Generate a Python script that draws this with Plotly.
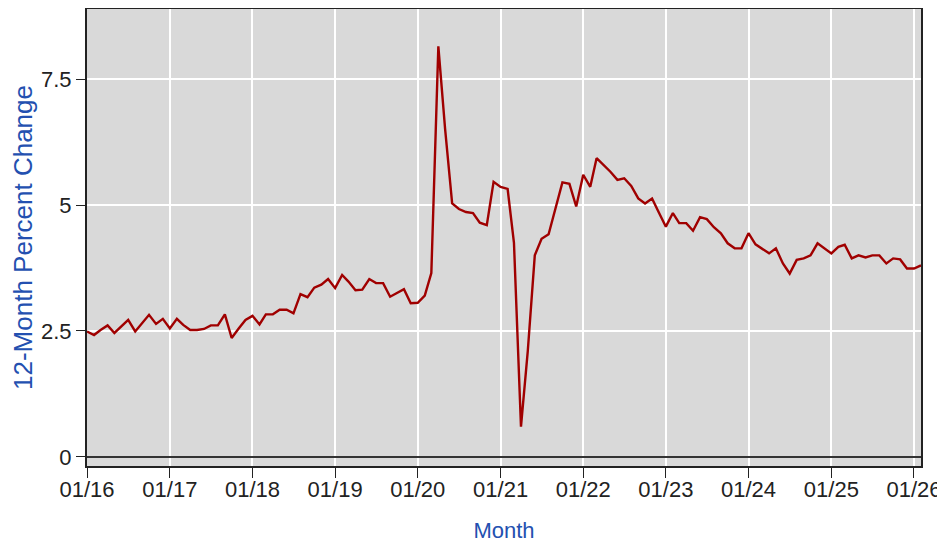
import pandas as pd
import plotly.graph_objects as go

START_MONTH = "2016-01-01"
values = [
    2.49, 2.42, 2.52, 2.61, 2.46, 2.60, 2.72, 2.49, 2.65, 2.82, 2.64, 2.74,   # 2016
    2.55, 2.74, 2.62, 2.52, 2.52, 2.54, 2.61, 2.61, 2.83, 2.36, 2.55, 2.72,   # 2017
    2.80, 2.63, 2.83, 2.83, 2.92, 2.92, 2.85, 3.23, 3.17, 3.36, 3.42, 3.53,   # 2018
    3.35, 3.61, 3.48, 3.31, 3.32, 3.53, 3.45, 3.45, 3.18, 3.25, 3.33, 3.05,   # 2019
    3.06, 3.20, 3.65, 8.15, 6.50, 5.03, 4.92, 4.86, 4.84, 4.65, 4.60, 5.46,   # 2020
    5.36, 5.32, 4.25, 0.60, 2.10, 4.00, 4.33, 4.42, 4.95, 5.45, 5.42, 4.97,   # 2021
    5.60, 5.36, 5.93, 5.80, 5.66, 5.50, 5.53, 5.38, 5.13, 5.03, 5.13, 4.85,   # 2022
    4.57, 4.84, 4.64, 4.64, 4.49, 4.76, 4.72, 4.56, 4.44, 4.24, 4.14, 4.14,   # 2023
    4.44, 4.22, 4.14, 4.04, 4.14, 3.84, 3.64, 3.91, 3.94, 4.00, 4.24, 4.14,   # 2024
    4.04, 4.17, 4.21, 3.94, 4.00, 3.96, 4.00, 4.00, 3.84, 3.94, 3.92, 3.74,   # 2025
    3.74, 3.80,                                                               # 2026
]
months = pd.date_range(START_MONTH, periods=len(values), freq="MS")

y_tick_vals = [0, 2.5, 5, 7.5]
y_tick_text = ["0", "2.5", "5", "7.5"]

x_title = "Month"
y_title = "12-Month Percent Change"

LINE_COLOR = "#a00000"
TITLE_COLOR = "#2350b0"
TEXT_COLOR = "#222222"
FRAME_COLOR = "#222222"
FONT = "Liberation Sans, Arial, sans-serif"

fig = go.Figure()
fig.add_trace(go.Scatter(
    x=months, y=values, mode="lines",
    line=dict(color=LINE_COLOR, width=2.4),
    hoverinfo="x+y", showlegend=False,
))

# the page body has an 8px default margin, so the figure is sized to fit the window
fig.update_layout(
    width=937, height=535,
    margin=dict(l=79, r=24, t=1, b=77),
    paper_bgcolor="#ffffff",
    plot_bgcolor="#d9d9d9",
    font=dict(family=FONT, size=22, color=TEXT_COLOR),
)

fig.update_xaxes(
    automargin=False,
    range=[months[0], months[-1]],
    tick0=START_MONTH, dtick="M12", tickformat="%m/%y",
    ticks="outside", ticklen=10, tickwidth=1, tickcolor=FRAME_COLOR,
    ticklabeloverflow="allow", ticklabelstandoff=-7,
    showgrid=True, gridcolor="#ffffff", gridwidth=2,
    showline=True, linecolor=FRAME_COLOR, linewidth=2, mirror=True,
    zeroline=False,
    tickfont=dict(family=FONT, size=22, color=TEXT_COLOR),
    title=dict(text=x_title, font=dict(family=FONT, size=22, color=TITLE_COLOR), standoff=22),
)

fig.update_yaxes(
    automargin=False,
    range=[-0.18, 8.89],
    tickvals=y_tick_vals, ticktext=y_tick_text,
    ticks="outside", ticklen=9, tickwidth=1, tickcolor=FRAME_COLOR,
    showgrid=True, gridcolor="#ffffff", gridwidth=2,
    showline=True, linecolor=FRAME_COLOR, linewidth=2, mirror=True,
    zeroline=True, zerolinecolor="#333333", zerolinewidth=2,
    tickfont=dict(family=FONT, size=22, color=TEXT_COLOR),
    title=dict(text=y_title, font=dict(family=FONT, size=26, color=TITLE_COLOR), standoff=10),
)

fig.write_html("out.html")
